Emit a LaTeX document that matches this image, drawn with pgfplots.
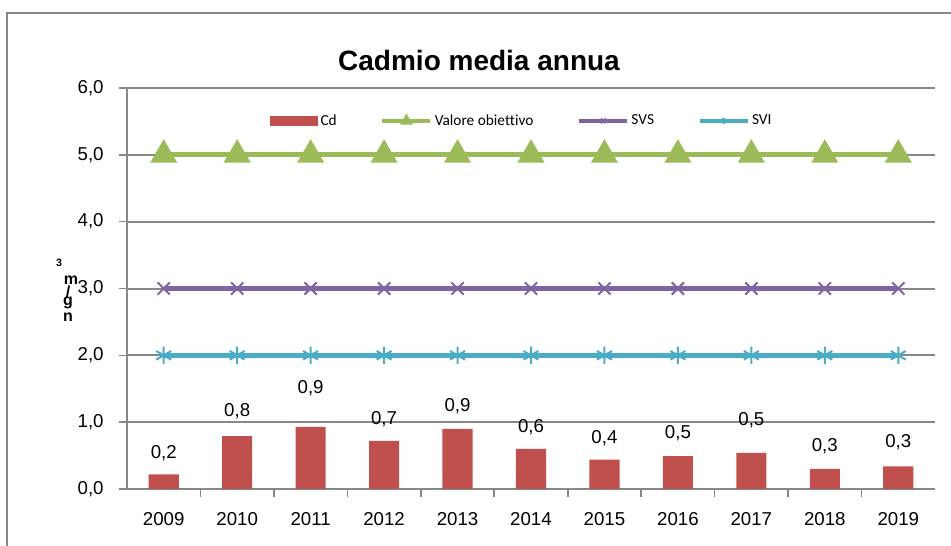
\documentclass[border=0pt]{standalone}
\usepackage{pgfplots}
\pgfplotsset{compat=1.18}
\usepackage{pgfplotstable}
\usepackage{fontspec}
\setmainfont{Liberation Sans}
\newfontfamily\legendfont[Ligatures=NoCommon]{Carlito}

\definecolor{cdred}{HTML}{C0504D}
\definecolor{vogreen}{HTML}{9BBB59}
\definecolor{svspurple}{HTML}{8064A2}
\definecolor{svicyan}{HTML}{4BACC6}
\definecolor{framegray}{HTML}{878787}

% annual mean of cadmium (ng/m3); off = label lift above the bar top (pt)
\pgfplotstableread{
x y off
0 0.22 11.6
1 0.79 14.6
2 0.93 25
3 0.72 12.4
4 0.90 13
5 0.60 12.4
6 0.44 12.4
7 0.49 13
8 0.54 20.6
9 0.30 13
10 0.34 13.9
}\cdtable

\pgfplotsset{
  /pgf/number format/assume math mode=true,
  linelegend/.style={legend image code/.code={%
    \draw[mark repeat=2,mark phase=2,##1,line width=2.5pt,mark size=#1]
      plot coordinates {(0pt,0pt) (18pt,0pt) (36pt,0pt)};}},
  barlegend/.style={legend image code/.code={%
    \fill[cdred] (0pt,-3.5pt) rectangle (36pt,4pt);}},
}

\begin{document}
\begin{tikzpicture}[x=0.75pt,y=0.75pt]
\useasboundingbox (0,0) rectangle (951,546);
\draw[framegray, line width=2pt] (7,533) rectangle (980,-20);

\node[font=\bfseries\fontsize{21}{24}\selectfont] at (479,486) {Cadmio media annua};

% unit label
\begin{scope}[font=\bfseries\fontsize{12}{12}\selectfont, inner sep=0pt]
\node[font=\bfseries\fontsize{8}{8}\selectfont] at (59,283) {3};
\node at (71,266) {m};
\node at (68,254) {/};
\node at (68,243) {g};
\node at (68,229) {n};
\end{scope}

\begin{axis}[
  at={(95.25pt,42.75pt)}, anchor=south west,
  scale only axis, width=606pt, height=300.75pt,
  xmin=-0.5, xmax=10.5, ymin=0, ymax=6,
  axis x line*=bottom, axis y line*=left,
  axis line style={framegray, line width=1.5pt, -},
  ymajorgrids, grid style={framegray, line width=1.5pt},
  ytick={0,1,...,6},
  yticklabel style={xshift=-8pt, /pgf/number format/.cd, fixed, fixed zerofill, precision=1, use comma},
  % tick marks between the years, year names centred under the bars
  xtick={0.5,1.5,...,9.5},
  xticklabels={},
  extra x ticks={0,...,10},
  extra x tick labels={2009,2010,2011,2012,2013,2014,2015,2016,2017,2018,2019},
  extra x tick style={grid=none, major tick length=0pt,
    xticklabel style={yshift=-14pt}},
  tick style={framegray, line width=1.2pt},
  tick align=outside, major tick length=6pt,
  ticklabel style={font=\fontsize{14}{16}\selectfont},
  clip=false,
  legend columns=4,
  legend style={at={(0.1765,0.918)}, anchor=west, draw=none, fill=none,
    inner sep=0pt, font=\legendfont\fontsize{11.5}{13}\selectfont,
    nodes={inner sep=2pt},
    /tikz/every even column/.append style={column sep=31pt}},
]
\addplot[ybar, fill=cdred, draw=none, bar width=0.41, barlegend,
  point meta=explicit,
  visualization depends on={\thisrow{off} \as \labeloff},
  nodes near coords={\pgfmathprintnumber[fixed,fixed zerofill,precision=1,use comma]{\pgfplotspointmeta}},
  every node near coord/.append style={anchor=base, inner sep=0pt, yshift=\labeloff pt,
    font=\fontsize{14}{16}\selectfont, text=black}]
  table[x=x, y=y, meta=y] {\cdtable};
\addlegendentry{Cd}

\addplot[vogreen, line width=3.75pt, mark=triangle*, mark size=8pt, linelegend=3pt]
  coordinates {(0,5) (1,5) (2,5) (3,5) (4,5) (5,5) (6,5) (7,5) (8,5) (9,5) (10,5)};
\addlegendentry{Valore obiettivo}

\addplot[svspurple, line width=3.75pt, mark=x, mark size=6.5pt, mark options={line width=1.5pt}, linelegend=2.5pt]
  coordinates {(0,3) (1,3) (2,3) (3,3) (4,3) (5,3) (6,3) (7,3) (8,3) (9,3) (10,3)};
\addlegendentry{SVS}

\addplot[svicyan, line width=3.75pt, mark=asterisk, mark size=6.5pt, mark options={line width=1.5pt}, linelegend=2.5pt]
  coordinates {(0,2) (1,2) (2,2) (3,2) (4,2) (5,2) (6,2) (7,2) (8,2) (9,2) (10,2)};
\addlegendentry{SVI}
\end{axis}
\end{tikzpicture}
\end{document}
